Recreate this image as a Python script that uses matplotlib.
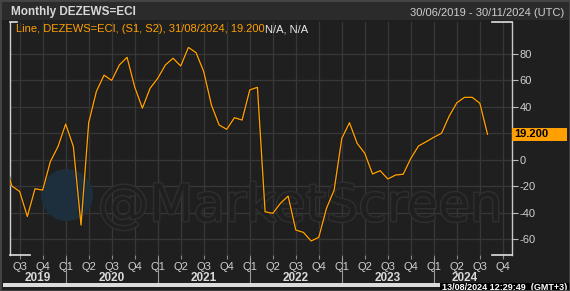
import numpy as np
import matplotlib
matplotlib.use('agg')
import matplotlib.pyplot as plt
import matplotlib.patheffects as pe
from matplotlib.patches import Rectangle, Ellipse
from matplotlib.lines import Line2D
import matplotlib.transforms as mtransforms

# monthly index, May 2019 .. Aug 2024 (0 = Jun 2019)
values = [-2, -20, -24, -43, -22, -23, -1.5, 10, 27, 10, -49.5, 28, 51.6, 64, 60,
          71.7, 77.5, 55, 39, 54, 61.6, 71.7, 76.8, 70.9, 85, 81, 66.6, 41.4, 26.3,
          23, 31.8, 30, 52.8, 54.8, -39.4, -40.6, -33, -27.5, -53.2, -55, -61.5,
          -58.7, -36.8, -23, 16.2, 28, 12.4, 4.8, -10.8, -8.3, -14.6, -11.6, -11,
          1, 10.4, 13.6, 17, 20, 33, 43.1, 47.2, 47.2, 42.7, 19.2]
months = np.arange(len(values)) - 1

quarter_pos = list(range(1, 65, 3))
quarter_labels = ['Q3', 'Q4'] + ['Q1', 'Q2', 'Q3', 'Q4'] * 5
year_sep = [7, 19, 31, 43, 55]
year_labels = ['2019', '2020', '2021', '2022', '2023', '2024']
year_pos = [3.4, 13, 25, 37, 49, 59]
yticks = [80, 60, 40, 20, 0, -20, -40, -60]

W, H = 570, 291
plt.rcParams['font.family'] = ['Liberation Sans', 'DejaVu Sans']

BG = '#1f1f1f'
GRID = '#373737'
TXT = '#cfcfcf'
ORANGE = '#ffa000'

fig = plt.figure(figsize=(W / 100, H / 100), dpi=100, facecolor=BG)


def fx(x):
    return x / W


def fy(y):
    return 1 - y / H


# title bar
fig.patches.append(Rectangle((0, fy(20)), 1, 20 / H, transform=fig.transFigure,
                             facecolor='#2b2b2b', edgecolor='none', zorder=0))
fig.text(fx(11), fy(12.5), 'Monthly DEZEWS=ECI', color='#d8d8d8', fontsize=8.5,
         fontweight='bold', va='center', ha='left')
fig.text(fx(564), fy(13), '30/06/2019 - 30/11/2024 (UTC)', color=TXT, fontsize=8,
         va='center', ha='right')

left, right, top, bottom = 10, 512, 22, 255
ax = fig.add_axes([fx(left), fy(bottom), (right - left) / W, (bottom - top) / H])
ax.set_facecolor(BG)

ax.plot(months, values, color=ORANGE, lw=0.95, zorder=3,
        path_effects=[pe.Stroke(linewidth=1.9, foreground='#0a0a0a', alpha=0.5), pe.Normal()])

ax.set_xlim(-0.26, 65.19)
ax.set_ylim(-72.1, 104.2)

ax.yaxis.tick_right()
ax.set_yticks(yticks)
# the 20 label sits under the last-value box
ax.set_yticklabels(['' if v == 20 else str(v) for v in yticks])
ax.set_xticks(quarter_pos)
ax.set_xticklabels(quarter_labels)
ax.tick_params(axis='y', direction='out', length=4, width=0.8, color='#bdbdbd',
               labelcolor=TXT, labelsize=8, pad=1.5)
ax.tick_params(axis='x', direction='out', length=3, width=0.8, color='#8a8a8a',
               labelcolor=TXT, labelsize=8, pad=2)
ax.grid(True, color=GRID, lw=0.9)
ax.set_axisbelow(True)

for s in ['top', 'bottom']:
    ax.spines[s].set_visible(False)
ax.spines['left'].set_color('#d0d0d0')
ax.spines['right'].set_color('#c8c8c8')
ax.spines['left'].set_linewidth(1.0)
ax.spines['right'].set_linewidth(1.0)

# corner brackets
cw = 20 / (right - left)
for (x0, x1, yy) in [(0, 7 / (right - left), 1), (1 - cw, 1, 1), (0, cw, 0), (1 - cw, 1, 0)]:
    ax.add_line(Line2D([x0, x1], [yy, yy], transform=ax.transAxes, color='#e0e0e0',
                       lw=1.2, clip_on=False, zorder=5))

# watermark (under the line)
ax.add_patch(Ellipse((fx(67), fy(195)), 52 / W, 52 / H, transform=fig.transFigure,
                     facecolor='#1d2f3d', edgecolor='none', zorder=1))
ax.text(fx(300), fy(221), '@MarketScreen', fontsize=37, color=BG, ha='center',
        va='baseline', family='DejaVu Sans', zorder=1, transform=fig.transFigure,
        path_effects=[pe.withStroke(linewidth=2.0, foreground='#2f2f2f')])

# legend line
fig.canvas.draw()
t1 = fig.text(fx(16), fy(29), 'Line, DEZEWS=ECI, (S1, S2), 31/08/2024, 19.200',
              color=ORANGE, fontsize=8, va='center', ha='left')
fig.canvas.draw()
bb = t1.get_window_extent()
fig.text(bb.x1 / W, fy(29), 'N/A, N/A', color='#e8e8e8', fontsize=8, va='center', ha='left')

# last value box on right axis
blend = mtransforms.blended_transform_factory(ax.transAxes, ax.transData)
half = 6.5 * (104.2 + 72.1) / (bottom - top)
ax.add_patch(Rectangle((1.0, values[-1] - half), 55 / (right - left), 2 * half,
                       transform=blend, facecolor=ORANGE, edgecolor='none',
                       clip_on=False, zorder=6))
ax.text(1.0 + 2 / (right - left), values[-1], '{:.3f}'.format(values[-1]),
        transform=blend, color='black', fontsize=8, fontweight='bold',
        va='center', ha='left', clip_on=False, zorder=7)

# year row
blendx = mtransforms.blended_transform_factory(ax.transData, ax.transAxes)
for xs in year_sep:
    ax.add_line(Line2D([xs, xs], [-3 / (bottom - top), -30 / (bottom - top)],
                       transform=blendx, color='#9a9a9a', lw=0.8, clip_on=False))
for xp, lab in zip(year_pos, year_labels):
    ax.text(xp, -23 / (bottom - top), lab, transform=blendx, color='#dadada',
            fontsize=8.5, fontweight='bold', ha='center', va='center', clip_on=False)

# bottom bar and timestamp
fig.patches.append(Rectangle((fx(3), fy(287)), (440 - 3) / W, 4 / H, transform=fig.transFigure,
                             facecolor='#dcdcdc', edgecolor='none', zorder=2))
fig.patches.append(Rectangle((fx(440), 0), (570 - 440) / W, 8 / H, transform=fig.transFigure,
                             facecolor='black', edgecolor='none', zorder=2))
fig.text(fx(442), fy(287.5), '13/08/2024 12:29:49  (GMT+3)', color='white', fontsize=6.5,
         fontweight='bold', va='center', ha='left', zorder=3)

# outer border
fig.patches.append(Rectangle((0, 0), 1, 1, transform=fig.transFigure, facecolor='none',
                             edgecolor='#454545', lw=2, zorder=4))

fig.savefig('out.png', dpi=100, facecolor=BG)
